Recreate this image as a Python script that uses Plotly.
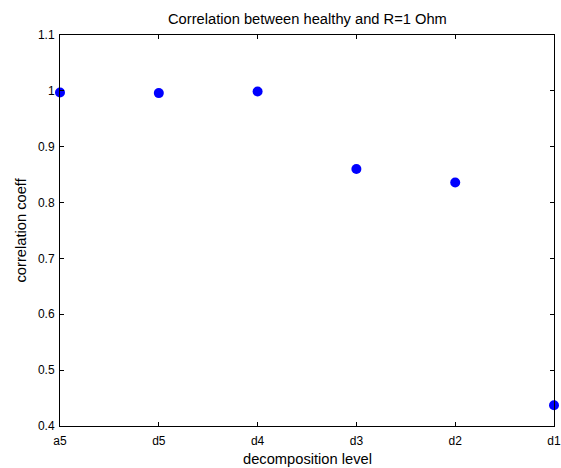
import plotly.graph_objects as go

categories = ["a5", "d5", "d4", "d3", "d2", "d1"]
corr_values = [0.997, 0.996, 0.999, 0.860, 0.836, 0.437]
y_ticks = [0.4, 0.5, 0.6, 0.7, 0.8, 0.9, 1.0, 1.1]
y_tick_labels = ["0.4", "0.5", "0.6", "0.7", "0.8", "0.9", "1", "1.1"]

x_idx = list(range(len(categories)))

fig = go.Figure(go.Scatter(
    x=x_idx, y=corr_values, mode="markers",
    marker=dict(color="#0000ff", size=10, line=dict(width=0)),
    cliponaxis=False,
))

FAM = "Liberation Sans, Arial, sans-serif"
tick_font = dict(family=FAM, size=12, color="#000")
label_font = dict(family=FAM, size=14.7, color="#000")
axis_common = dict(
    showline=True, linecolor="#000", linewidth=1, mirror="ticks",
    ticks="inside", ticklen=4, tickcolor="#000", tickwidth=1,
    showgrid=False, zeroline=False, tickfont=tick_font,
    ticklabeloverflow="allow",
)
fig.update_layout(
    width=561, height=468,
    margin=dict(l=60, r=7, t=35, b=42, autoexpand=False),
    paper_bgcolor="white", plot_bgcolor="white",
    showlegend=False,
    xaxis=dict(range=[0, 5], tickvals=x_idx, ticktext=categories,
               ticklabelstandoff=4, **axis_common),
    yaxis=dict(range=[0.4, 1.1], tickvals=y_ticks, ticktext=y_tick_labels,
               ticklabelstandoff=2, **axis_common),
    annotations=[
        dict(text="Correlation between healthy and R=1 Ohm", xref="paper", yref="paper",
             x=0.5, y=1 + 16 / 391, xanchor="center", yanchor="middle",
             showarrow=False, font=label_font),
        dict(text="decomposition level", xref="paper", yref="paper",
             x=0.5, y=-33 / 391, xanchor="center", yanchor="middle",
             showarrow=False, font=label_font),
        dict(text="correlation coeff", xref="paper", yref="paper",
             x=-40 / 494, y=0.5, xanchor="center", yanchor="middle", textangle=-90,
             showarrow=False, font=label_font),
    ],
)
fig.write_html(
    "out.html",
    config={"displayModeBar": False},
    post_script="document.body.style.margin='0';document.body.style.overflow='hidden';",
)
